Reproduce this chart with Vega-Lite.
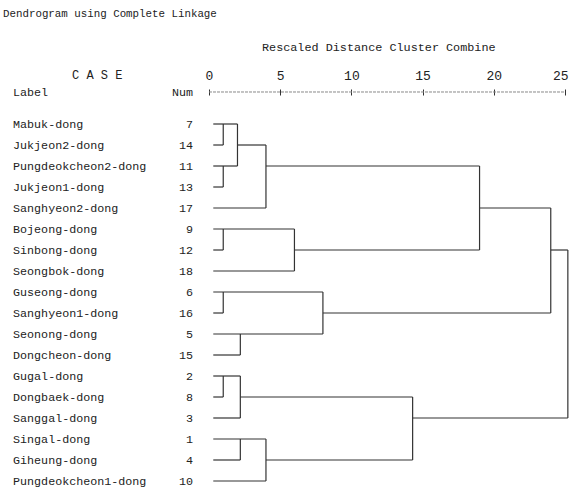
{
  "$schema": "https://vega.github.io/schema/vega-lite/v6.json",
  "width": 569,
  "height": 489,
  "autosize": {"type": "none"},
  "padding": 0,
  "background": "white",
  "config": {"view": {"stroke": null}, "text": {"font": "Liberation Mono", "color": "#222"}},
  "datasets": {
    "segs": [
      {"x": 0.3, "x2": 2, "y": 0, "y2": 0},
      {"x": 0.3, "x2": 1, "y": 1, "y2": 1},
      {"x": 0.3, "x2": 2, "y": 2, "y2": 2},
      {"x": 0.3, "x2": 1, "y": 3, "y2": 3},
      {"x": 0.3, "x2": 4, "y": 4, "y2": 4},
      {"x": 0.3, "x2": 6, "y": 5, "y2": 5},
      {"x": 0.3, "x2": 1, "y": 6, "y2": 6},
      {"x": 0.3, "x2": 6, "y": 7, "y2": 7},
      {"x": 0.3, "x2": 8, "y": 8, "y2": 8},
      {"x": 0.3, "x2": 1, "y": 9, "y2": 9},
      {"x": 0.3, "x2": 8, "y": 10, "y2": 10},
      {"x": 0.3, "x2": 2.2, "y": 11, "y2": 11},
      {"x": 0.3, "x2": 2.2, "y": 12, "y2": 12},
      {"x": 0.3, "x2": 1, "y": 13, "y2": 13},
      {"x": 0.3, "x2": 2.2, "y": 14, "y2": 14},
      {"x": 0.3, "x2": 4, "y": 15, "y2": 15},
      {"x": 0.3, "x2": 2.2, "y": 16, "y2": 16},
      {"x": 0.3, "x2": 4, "y": 17, "y2": 17},
      {"x": 2, "x2": 4, "y": 1, "y2": 1},
      {"x": 4, "x2": 19, "y": 2, "y2": 2},
      {"x": 6, "x2": 19, "y": 6, "y2": 6},
      {"x": 19, "x2": 24, "y": 4, "y2": 4},
      {"x": 8, "x2": 24, "y": 9, "y2": 9},
      {"x": 2.2, "x2": 14.3, "y": 13, "y2": 13},
      {"x": 4, "x2": 14.3, "y": 16, "y2": 16},
      {"x": 14.3, "x2": 25.2, "y": 14, "y2": 14},
      {"x": 24, "x2": 25.2, "y": 6, "y2": 6},
      {"x": 1, "x2": 1, "y": 0, "y2": 1},
      {"x": 1, "x2": 1, "y": 2, "y2": 3},
      {"x": 2, "x2": 2, "y": 0, "y2": 2},
      {"x": 4, "x2": 4, "y": 1, "y2": 4},
      {"x": 1, "x2": 1, "y": 5, "y2": 6},
      {"x": 6, "x2": 6, "y": 5, "y2": 7},
      {"x": 19, "x2": 19, "y": 2, "y2": 6},
      {"x": 1, "x2": 1, "y": 8, "y2": 9},
      {"x": 2.2, "x2": 2.2, "y": 10, "y2": 11},
      {"x": 8, "x2": 8, "y": 8, "y2": 10},
      {"x": 24, "x2": 24, "y": 4, "y2": 9},
      {"x": 1, "x2": 1, "y": 12, "y2": 13},
      {"x": 2.2, "x2": 2.2, "y": 12, "y2": 14},
      {"x": 2.2, "x2": 2.2, "y": 15, "y2": 16},
      {"x": 4, "x2": 4, "y": 15, "y2": 17},
      {"x": 14.3, "x2": 14.3, "y": 13, "y2": 16},
      {"x": 25.2, "x2": 25.2, "y": 6, "y2": 14}
    ],
    "cases": [
      {"row": 0, "label": "Mabuk-dong", "num": 7},
      {"row": 1, "label": "Jukjeon2-dong", "num": 14},
      {"row": 2, "label": "Pungdeokcheon2-dong", "num": 11},
      {"row": 3, "label": "Jukjeon1-dong", "num": 13},
      {"row": 4, "label": "Sanghyeon2-dong", "num": 17},
      {"row": 5, "label": "Bojeong-dong", "num": 9},
      {"row": 6, "label": "Sinbong-dong", "num": 12},
      {"row": 7, "label": "Seongbok-dong", "num": 18},
      {"row": 8, "label": "Guseong-dong", "num": 6},
      {"row": 9, "label": "Sanghyeon1-dong", "num": 16},
      {"row": 10, "label": "Seonong-dong", "num": 5},
      {"row": 11, "label": "Dongcheon-dong", "num": 15},
      {"row": 12, "label": "Gugal-dong", "num": 2},
      {"row": 13, "label": "Dongbaek-dong", "num": 8},
      {"row": 14, "label": "Sanggal-dong", "num": 3},
      {"row": 15, "label": "Singal-dong", "num": 1},
      {"row": 16, "label": "Giheung-dong", "num": 4},
      {"row": 17, "label": "Pungdeokcheon1-dong", "num": 10}
    ],
    "axisline": [{"x": 0, "x2": 25, "y": -1.524}],
    "one": [{}]
  },
  "layer": [
    {
      "data": {"name": "axisline"},
      "mark": {"type": "rule", "color": "#888", "strokeWidth": 1, "strokeDash": [3, 1]},
      "encoding": {
        "x": {"field": "x", "type": "quantitative", "scale": {"domain": [-14.677, 25.281], "nice": false, "zero": false},
          "axis": {"orient": "top", "values": [0, 5, 10, 15, 20, 25], "offset": -95, "domain": false, "grid": false, "ticks": true, "tickSize": 6, "tickColor": "#333", "labelPadding": 7, "labelFont": "Liberation Mono", "labelFontSize": 13, "labelColor": "#222", "labelAlign": {"expr": "datum.value == 25 ? 'right' : 'center'"}, "labelOffset": {"expr": "datum.value == 25 ? 3 : 0"}, "title": null}},
        "x2": {"field": "x2"},
        "y": {"field": "y", "type": "quantitative", "scale": {"domain": [-5.905, 17.381], "nice": false, "zero": false, "reverse": true}, "axis": null}
      }
    },
    {
      "data": {"name": "segs"},
      "mark": {"type": "rule", "color": "#333", "strokeWidth": 1.2},
      "encoding": {
        "x": {"field": "x", "type": "quantitative"},
        "x2": {"field": "x2"},
        "y": {"field": "y", "type": "quantitative"},
        "y2": {"field": "y2"}
      }
    },
    {
      "data": {"name": "cases"},
      "mark": {"type": "text", "align": "left", "baseline": "middle", "fontSize": 11.7},
      "encoding": {
        "x": {"datum": -13.76, "type": "quantitative"},
        "y": {"field": "row", "type": "quantitative"},
        "text": {"field": "label"}
      }
    },
    {
      "data": {"name": "cases"},
      "mark": {"type": "text", "align": "right", "baseline": "middle", "fontSize": 11.7},
      "encoding": {
        "x": {"datum": -1.12, "type": "quantitative"},
        "y": {"field": "row", "type": "quantitative"},
        "text": {"field": "num"}
      }
    },
    {
      "data": {"name": "one"},
      "mark": {"type": "text", "align": "left", "baseline": "middle", "fontSize": 10.8, "text": "Dendrogram using Complete Linkage"},
      "encoding": {"x": {"datum": -14.466, "type": "quantitative"}, "y": {"datum": -5.238, "type": "quantitative"}}
    },
    {
      "data": {"name": "one"},
      "mark": {"type": "text", "align": "left", "baseline": "middle", "fontSize": 11.8, "text": "Rescaled Distance Cluster Combine"},
      "encoding": {"x": {"datum": 3.72, "type": "quantitative"}, "y": {"datum": -3.667, "type": "quantitative"}}
    },
    {
      "data": {"name": "one"},
      "mark": {"type": "text", "align": "left", "baseline": "middle", "fontSize": 12, "text": "C A S E"},
      "encoding": {"x": {"datum": -9.62, "type": "quantitative"}, "y": {"datum": -2.333, "type": "quantitative"}}
    },
    {
      "data": {"name": "one"},
      "mark": {"type": "text", "align": "left", "baseline": "middle", "fontSize": 11.7, "text": "Label"},
      "encoding": {"x": {"datum": -13.76, "type": "quantitative"}, "y": {"datum": -1.524, "type": "quantitative"}}
    },
    {
      "data": {"name": "one"},
      "mark": {"type": "text", "align": "right", "baseline": "middle", "fontSize": 11.7, "text": "Num"},
      "encoding": {"x": {"datum": -1.12, "type": "quantitative"}, "y": {"datum": -1.524, "type": "quantitative"}}
    }
  ]
}
